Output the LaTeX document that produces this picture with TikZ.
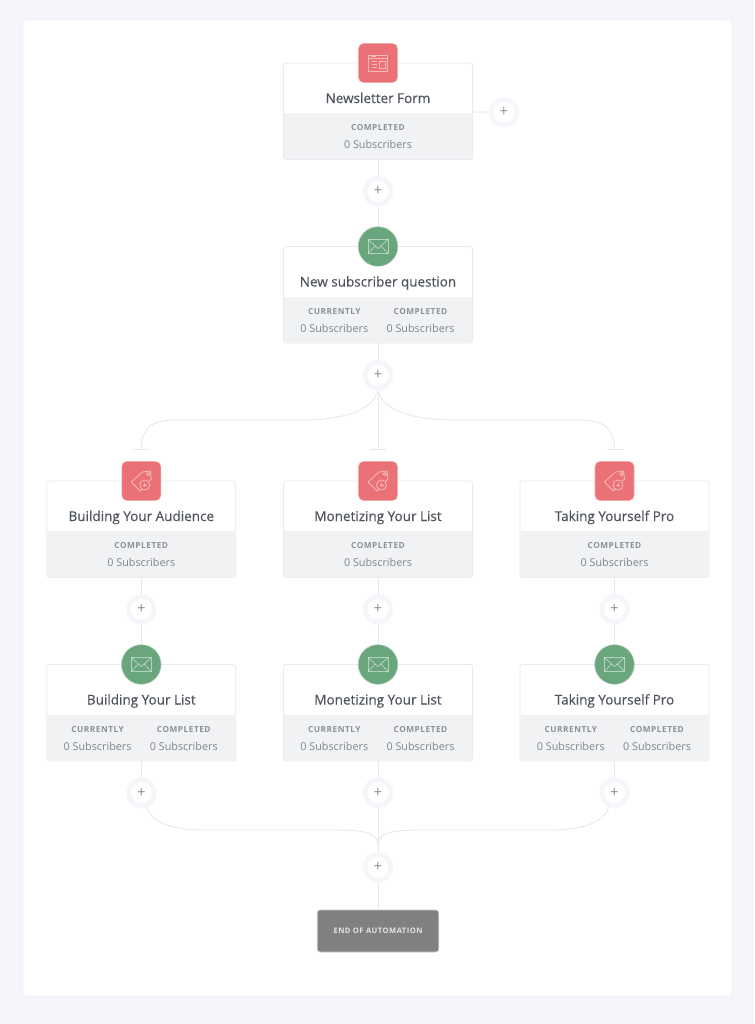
\documentclass[tikz,border=0pt]{standalone}
\usepackage{fontspec}
\setmainfont{Open Sans}
\newfontfamily\lblfont[LetterSpace=6]{Open Sans}
\newfontfamily\titlefont[FakeBold=0.4]{Open Sans}
\usetikzlibrary{backgrounds,calc}
\definecolor{pagebg}{HTML}{F3F5FA}
\definecolor{edgecol}{HTML}{E8EAEE}
\definecolor{bandcol}{HTML}{F1F2F4}
\definecolor{linecol}{HTML}{E6E8EC}
\definecolor{titlecol}{HTML}{50555D}
\definecolor{lblcol}{HTML}{8C9096}
\definecolor{subcol}{HTML}{7F848B}
\definecolor{redcol}{HTML}{EA7277}
\definecolor{greencol}{HTML}{69A57D}
\definecolor{endcol}{HTML}{808080}
\definecolor{plusring}{HTML}{F5F6F9}
\tikzset{
  x=1pt,y=-1pt,
  cardbox/.style={draw=edgecol,line width=.8pt,fill=white,rounded corners=2.5pt,minimum width=189pt,minimum height=96.5pt,inner sep=0pt},
  cardtitle/.style={font=\fontsize{13.5}{15}\titlefont,text=titlecol,inner sep=0pt,anchor=base},
  lbl/.style={font=\fontsize{8.3}{9}\bfseries\lblfont,text=lblcol,inner sep=0pt,anchor=base},
  sublbl/.style={font=\fontsize{10.8}{12}\selectfont,text=subcol,inner sep=0pt,anchor=base},
  redicon/.style={fill=redcol,draw=redcol!60!white,line width=.6pt,rounded corners=5pt,minimum size=39pt,inner sep=0pt},
  greenicon/.style={circle,fill=greencol,draw=greencol!60!white,line width=.6pt,minimum size=39.5pt,inner sep=0pt},
  plusnode/.style={circle,fill=white,draw=plusring,line width=4.5pt,minimum size=26pt,inner sep=0pt,text=lblcol,font=\fontsize{15}{15}\selectfont},
  wire/.style={draw=linecol,line width=.9pt},
  iconline/.style={draw=white,opacity=.5,line width=.8pt,line join=round},
  endbox/.style={fill=endcol,draw=edgecol!70!endcol,line width=.6pt,rounded corners=3pt,minimum width=121.5pt,minimum height=42pt,inner sep=0pt,text=white!80!endcol,font=\fontsize{7.6}{8}\bfseries\lblfont}
}
% #1 name, #2 cx, #3 top y, #4 title
\newcommand{\cardbase}[4]{%
  \node[cardbox] (#1) at (#2,#3+48.2) {};
  \fill[bandcol,rounded corners=2.5pt] (#2-94,#3+50.5) -- (#2+94,#3+50.5) -- (#2+94,#3+96) -- (#2-94,#3+96) -- cycle;
  \fill[bandcol] (#2-94,#3+50) rectangle (#2+94,#3+60);
  \node[cardtitle] (#1t) at (#2,#3+40) {#4};
}
\newcommand{\redstage}[5]{% name,cx,top,title,icon
  \cardbase{#1}{#2}{#3}{#4}
  \node[lbl] (#1a) at (#2,#3+67.5) {COMPLETED};
  \node[sublbl] (#1b) at (#2,#3+85.5) {0 Subscribers};
  \node[redicon] (#1i) at (#2,#3) {};
  \begin{scope}[shift={(#2,#3)}]#5\end{scope}
}
\newcommand{\greenstage}[4]{% name,cx,top,title
  \cardbase{#1}{#2}{#3}{#4}
  \node[lbl] (#1a) at (#2-43.7,#3+67.5) {CURRENTLY};
  \node[sublbl] (#1b) at (#2-43.7,#3+85.5) {0 Subscribers};
  \node[lbl] (#1c) at (#2+42.5,#3+67.5) {COMPLETED};
  \node[sublbl] (#1d) at (#2+42.5,#3+85.5) {0 Subscribers};
  \node[greenicon] (#1i) at (#2,#3) {};
  \begin{scope}[shift={(#2,#3)}]
    \draw[iconline] (-10,-7) rectangle (10,7);
    \draw[iconline] (-10,-7) -- (0,2) -- (10,-7);
    \draw[iconline] (-10,7) -- (-3,-.5) (10,7) -- (3,-.5);
  \end{scope}
}
\newcommand{\tagicon}{%
  \draw[iconline] (-10,1) -- (1,-9) -- (9,-10) -- (10,-2) -- (8,0);
  \draw[iconline] (-10,1) -- (-1,10) -- (1,8);
  \draw[iconline] (7,-7) circle (1.8);
  \draw[iconline] (3.5,4) circle (5);
  \draw[iconline] (1.5,4) -- (5.5,4) (3.5,2) -- (3.5,6);
}
\newcommand{\formicon}{%
  \draw[iconline] (-9.5,-8) rectangle (9.5,8);
  \draw[iconline] (-9.5,-4.5) -- (9.5,-4.5);
  \draw[iconline] (-7,-6.2) -- (-2,-6.2);
  \draw[iconline] (-6.5,-1.5) -- (-1,-1.5) (-6.5,1.5) -- (-1,1.5) (-6.5,4.5) -- (-1,4.5);
  \draw[iconline] (1.5,-2) rectangle (7,5);
}
\begin{document}
\begin{tikzpicture}
\useasboundingbox (0,0) rectangle (754,1024);
\begin{pgfonlayer}{background}
  \fill[pagebg] (0,0) rectangle (754,1024);
  \fill[white,draw=edgecol!60!white,line width=.6pt,rounded corners=3pt] (23,20) rectangle (732,996);
\end{pgfonlayer}

\redstage{form}{378}{63}{Newsletter Form}{\formicon}
\greenstage{question}{378}{246.5}{New subscriber question}
\redstage{tagA}{141.3}{481}{Building Your Audience}{\tagicon}
\redstage{tagB}{378}{481}{Monetizing Your List}{\tagicon}
\redstage{tagC}{614.5}{481}{Taking Yourself Pro}{\tagicon}
\greenstage{mailA}{141.3}{664.5}{Building Your List}
\greenstage{mailB}{378}{664.5}{Monetizing Your List}
\greenstage{mailC}{614.5}{664.5}{Taking Yourself Pro}

\node[plusnode] (pRight) at (504,112.3) {+};
\node[plusnode] (p1) at (378,191.3) {+};
\node[plusnode] (p2) at (378,375.3) {+};
\node[plusnode] (p3a) at (141.3,609.3) {+};
\node[plusnode] (p3b) at (378,609.3) {+};
\node[plusnode] (p3c) at (614.5,609.3) {+};
\node[plusnode] (p4a) at (141.3,792.8) {+};
\node[plusnode] (p4b) at (378,792.8) {+};
\node[plusnode] (p4c) at (614.5,792.8) {+};
\node[plusnode] (p5) at (378,867.3) {+};
\node[endbox] (endn) at (378,931) {END OF AUTOMATION};

\coordinate (stopA) at (141.3,449);
\coordinate (stopB) at (378,449);
\coordinate (stopC) at (614.5,449);
\coordinate (join) at (378,843);

\begin{pgfonlayer}{background}
  \draw[wire] (472,112) -- (pRight);
  \draw[wire] (form.south) -- (p1) -- (questioni);
  \draw[wire] (question.south) -- (p2);
  \draw[wire] (p2) -- (stopB);
  \draw[wire] (p2.south) .. controls (373,410) and (345,420) .. (300,420) -- (175,420) .. controls (150,420) and (141.3,430) .. (stopA);
  \draw[wire] (p2.south) .. controls (383,410) and (411,420) .. (456,420) -- (580,420) .. controls (605,420) and (614.5,430) .. (stopC);
  \draw[wire] ($(stopA)+(-8,0)$) -- ($(stopA)+(8,0)$);
  \draw[wire] ($(stopB)+(-8,0)$) -- ($(stopB)+(8,0)$);
  \draw[wire] ($(stopC)+(-8,0)$) -- ($(stopC)+(8,0)$);
  \draw[wire] (tagA.south) -- (p3a) -- (mailAi);
  \draw[wire] (tagB.south) -- (p3b) -- (mailBi);
  \draw[wire] (tagC.south) -- (p3c) -- (mailCi);
  \draw[wire] (mailA.south) -- (p4a);
  \draw[wire] (mailB.south) -- (p4b);
  \draw[wire] (mailC.south) -- (p4c);
  \draw[wire] (p4b) -- (p5) -- (endn);
  \draw[wire] (p4a) .. controls (152,822) and (170,830) .. (205,830) -- (335,830) .. controls (365,830) and (376,833) .. (join);
  \draw[wire] (p4c) .. controls (603,822) and (585,830) .. (550,830) -- (421,830) .. controls (391,830) and (380,833) .. (join);
\end{pgfonlayer}
\end{tikzpicture}
\end{document}
